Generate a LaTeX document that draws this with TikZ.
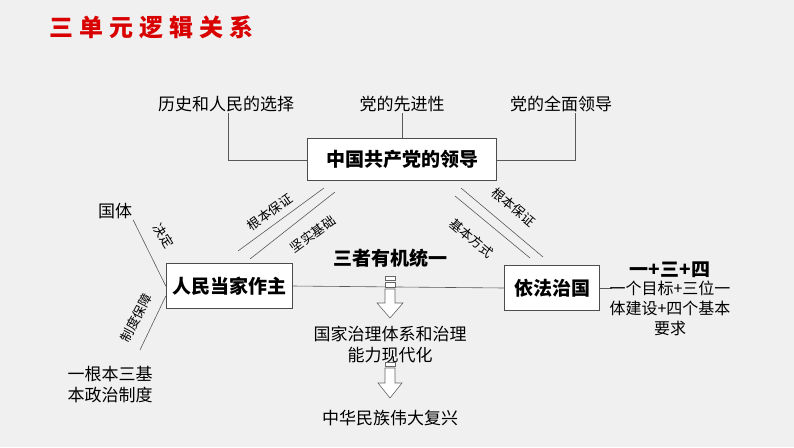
\documentclass[tikz,border=0pt]{standalone}
\usepackage{fontspec}
\setmainfont{Noto Sans CJK SC}
\begin{document}
\begin{tikzpicture}[x=1pt,y=-1pt,
  txt/.style={font=\fontsize{17}{21}\selectfont, inner sep=1pt, align=center},
  box/.style={draw=black!70, fill=white, font=\fontsize{19}{22}\selectfont\bfseries, minimum height=42pt, inner sep=3pt},
  lbl/.style={font=\fontsize{13}{15}\selectfont, inner sep=0pt},
  ln/.style={draw=black!65, line width=0.6pt},
  harrow/.style={draw=black!60, fill=white, line width=0.6pt}]
\useasboundingbox[fill=black!6] (0,0) rectangle (794,447);
\node[font=\fontsize{24}{28}\selectfont\bfseries, text=red!85!black] (title) at (151,27) {三\hspace{6pt}单\hspace{6pt}元\hspace{6pt}逻\hspace{6pt}辑\hspace{6pt}关\hspace{6pt}系};
\node[box, minimum width=189pt] (cpc) at (402,159) {中国共产党的领导};
\node[box, minimum width=126pt, minimum height=45pt] (rm) at (229,286) {人民当家作主};
\node[box, minimum width=95pt, minimum height=45pt] (yf) at (552,288) {依法治国};
\node[txt] (l1) at (226,104) {历史和人民的选择};
\node[txt] (l2) at (402,104) {党的先进性};
\node[txt] (l3) at (561,104) {党的全面领导};
\coordinate (a1) at (228,160); \coordinate (a2) at (575,160);
\draw[ln] (l1.south -| a1) -- (a1) -- (cpc.west |- a1);
\draw[ln] (l3.south -| a2) -- (a2) -- (cpc.east |- a2);
\draw[ln] (l2.south) -- (cpc.north);
\coordinate (e) at (612,288);
\draw[ln] (rm.east) -- (yf.west);
\draw[ln] (yf.east) -- (e);
% diagonals
\coordinate (p1) at (238,251); \coordinate (p2) at (324,188);
\coordinate (p3) at (250,259); \coordinate (p4) at (335,192);
\draw[ln] (p1) -- (p2); \draw[ln] (p3) -- (p4);
\node[lbl, rotate=36] (g1) at (270,212) {根本保证};
\node[lbl, rotate=36] (g2) at (313,234) {坚实基础};
\coordinate (q1) at (461,188); \coordinate (q2) at (543,257);
\coordinate (q3) at (455,196); \coordinate (q4) at (530,258);
\draw[ln] (q1) -- (q2); \draw[ln] (q3) -- (q4);
\node[lbl, rotate=-40] (h1) at (514,207) {根本保证};
\node[lbl, rotate=-40] (h2) at (472,238) {基本方式};
% left
\node[txt] (gt) at (115,211) {国体};
\draw[ln] (gt.south east) -- (rm.west);
\node[lbl, rotate=-58] (jd) at (164,236) {决定};
\node[txt] (zd) at (110,385) {一根本三基\\本政治制度};
\coordinate (z1) at (140,350);
\draw[ln] (rm.west) ++(0,10) -- (z1);
\node[lbl, rotate=62] (zb) at (136,318) {制度保障};
% center
\node[font=\fontsize{19}{22}\selectfont\bfseries] (sz) at (390,258) {三者有机统一};
\node[txt] (gj) at (390,345) {国家治理体系和治理\\能力现代化};
\node[txt] (zh) at (390,418) {中华民族伟大复兴};
\draw[harrow] (385,276) rectangle (395,280);
\draw[harrow] (385,282) rectangle (395,287);
\draw[harrow] (385,289) -- (395,289) -- (395,303) -- (403,303) -- (390,318) -- (377,303) -- (385,303) -- cycle;
\draw[harrow] (385,362) rectangle (395,366);
\draw[harrow] (385,368) -- (395,368) -- (395,383) -- (402,383) -- (390,398) -- (378,383) -- (385,383) -- cycle;
% right
\node[font=\fontsize{19}{22}\selectfont\bfseries] (yss) at (670,270) {一+三+四};
\node[font=\fontsize{16}{20}\selectfont, inner sep=1pt, align=center] (ym) at (670,308) {一个目标+三位一\\体建设+四个基本\\要求};
\end{tikzpicture}
\end{document}
